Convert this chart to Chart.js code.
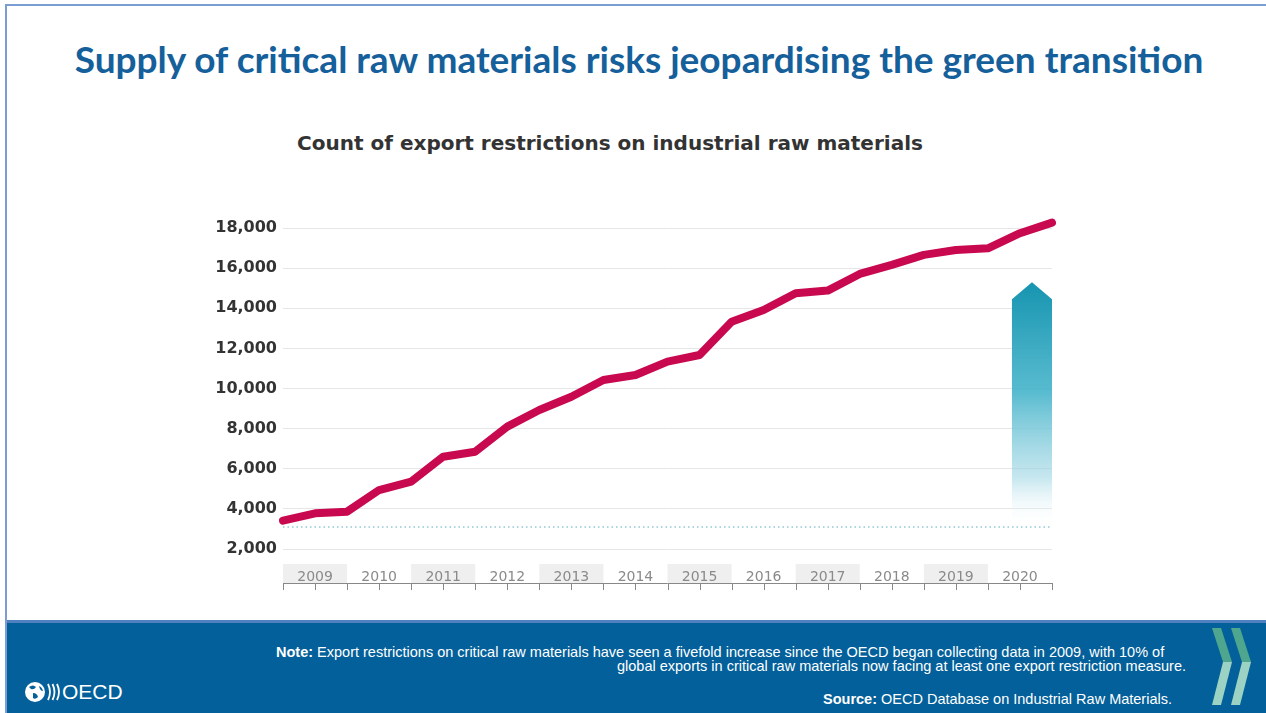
<!DOCTYPE html>
<html>
<head>
<meta charset="utf-8">
<script src="https://cdn.jsdelivr.net/npm/chart.js@4.4.0/dist/chart.umd.min.js"></script>
<style>
    html, body { margin: 0; padding: 0; background: #fff; }
    body { width: 1266px; height: 713px; position: relative; overflow: hidden; font-family: "Liberation Sans", Arial, sans-serif; }
    .frame { position: absolute; left: 5px; top: 4px; right: -4px; bottom: 0; border-left: 2px solid #7b9dd3; border-top: 2px solid #7b9dd3; }
    .slide-title { position: absolute; left: 0; width: 1278px; top: 37px; text-align: center; font-family: Lato, sans-serif; font-weight: 700; font-size: 37px; line-height: 44px; color: #15609b; }
    .chart-title { position: absolute; left: 0; width: 1220px; top: 131px; text-align: center; font-family: "DejaVu Sans", sans-serif; font-weight: 700; font-size: 20px; line-height: 24px; color: #333; }
    #chartBox { position: absolute; left: 200px; top: 200px; width: 880px; height: 410px; }
    .footer { position: absolute; left: 7px; top: 620px; right: 0; bottom: 0; background: #03609a; border-top: 3px solid #4f80c0; }
    .note { position: absolute; color: #fff; font-size: 14.5px; line-height: 16px; white-space: nowrap; }
    .logo { position: absolute; top: 680px; color: #fff; font-size: 21px; line-height: 24px; }
</style>
</head>
<body>
<div class="frame"></div>
<div class="slide-title">Supply of critical raw materials risks jeopardising the green transition</div>
<div class="chart-title">Count of export restrictions on industrial raw materials</div>
<div id="chartBox"><canvas id="lineChart"></canvas></div>

<div class="footer"></div>
<div class="note" style="left:276px; top:644px;"><b>Note:</b> Export restrictions on critical raw materials have seen a fivefold increase since the OECD began collecting data in 2009, with 10% of</div>
<div class="note" style="right:80px; top:658px;">global exports in critical raw materials now facing at least one export restriction measure.</div>
<div class="note" style="right:94px; top:691px;"><b>Source:</b> OECD Database on Industrial Raw Materials.</div>

<!-- logo OECD -->
<svg style="position:absolute; left:24px; top:680px;" width="38" height="24">
    <circle cx="11" cy="12" r="10" fill="#fff"/>
    <path d="M5 7 q4 -3 7 0 q-2 3 -5 2 z M9 13 q4 0 5 4 q-3 3 -5 1 z M15 6 q3 1 4 5 q-3 0 -4 -5 z" fill="#03609a"/>
    <path d="M24 4 q4 8 0 16 M28.5 4 q4 8 0 16 M33 4 q4 8 0 16" stroke="#fff" stroke-width="1.8" fill="none"/>
</svg>
<div class="logo" style="left:62px;">OECD</div>

<!-- chevrons -->
<svg style="position:absolute; left:1200px; top:620px;" width="66" height="93">
    <polygon points="12,8 21,8 32,42 23,42" fill="#4fa68f"/>
    <polygon points="23,42 32,42 21,85 12,85" fill="#9bd2c4"/>
    <polygon points="31,8 40,8 51,42 42,42" fill="#4fa68f"/>
    <polygon points="42,42 51,42 40,85 31,85" fill="#9bd2c4"/>
</svg>

<script>
(function () {
    "use strict";

    // Dữ liệu
    var years = ["2009", "2010", "2011", "2012", "2013", "2014", "2015", "2016", "2017", "2018", "2019", "2020"];
    var restrictions = [
        3410, 3780, 3860, 4940, 5360, 6600, 6850, 8100, 8930, 9590, 10420, 10670, 11340,
        11670, 13330, 13910, 14750, 14880, 15710, 16160, 16660, 16900, 16990, 17740, 18270,
    ];
    var yTicks = [2000, 4000, 6000, 8000, 10000, 12000, 14000, 16000, 18000];
    var baseline = 3100; // dotted reference line
    var arrowRange = [22.75, 24, 3100, 14450, 15300]; // x from, x to, y bottom, y shoulder, y tip

    // half-year positions: year labels sit in the middle of each year
    var tickLabels = [""];
    years.forEach(function (y) {
        tickLabels.push(y, "");
    });

    var decorations = {
        id: "decorations",
        beforeDraw: function (chart) {
            var ctx = chart.ctx, x = chart.scales.x;
            // grey bands behind every other year label
            ctx.save();
            ctx.fillStyle = "#efefef";
            for (var i = 0; i < years.length; i += 2) {
                var x0 = x.getPixelForValue(i * 2), x1 = x.getPixelForValue(i * 2 + 2);
                ctx.fillRect(x0, x.top + 15, x1 - x0, 19);
            }
            ctx.restore();
        },
        beforeDatasetsDraw: function (chart) {
            var ctx = chart.ctx, x = chart.scales.x, y = chart.scales.y;
            ctx.save();
            // dotted line
            ctx.strokeStyle = "#8fcad6";
            ctx.lineWidth = 1.5;
            ctx.setLineDash([1.5, 3]);
            ctx.beginPath();
            ctx.moveTo(chart.chartArea.left, y.getPixelForValue(baseline));
            ctx.lineTo(chart.chartArea.right, y.getPixelForValue(baseline));
            ctx.stroke();
            ctx.setLineDash([]);

            // arrow
            var ax0 = x.getPixelForValue(arrowRange[0]), ax1 = x.getPixelForValue(arrowRange[1]);
            var yb = y.getPixelForValue(arrowRange[2]), ys = y.getPixelForValue(arrowRange[3]), yt = y.getPixelForValue(arrowRange[4]);
            var g = ctx.createLinearGradient(0, yt, 0, yb);
            g.addColorStop(0, "rgba(22,148,176,1)");
            g.addColorStop(0.45, "rgba(70,180,202,0.9)");
            g.addColorStop(0.8, "rgba(160,215,228,0.6)");
            g.addColorStop(1, "rgba(255,255,255,0)");
            ctx.fillStyle = g;
            ctx.beginPath();
            ctx.moveTo(ax0, yb);
            ctx.lineTo(ax0, ys);
            ctx.lineTo((ax0 + ax1) / 2, yt);
            ctx.lineTo(ax1, ys);
            ctx.lineTo(ax1, yb);
            ctx.closePath();
            ctx.fill();
            ctx.restore();
        },
        afterDraw: function (chart) {
            var ctx = chart.ctx, x = chart.scales.x;
            var yAxis = x.top + 34;
            ctx.save();
            ctx.strokeStyle = "#888";
            ctx.lineWidth = 1;
            ctx.beginPath();
            ctx.moveTo(x.getPixelForValue(0), yAxis + 0.5);
            ctx.lineTo(x.getPixelForValue(tickLabels.length - 1), yAxis + 0.5);
            for (var i = 0; i < tickLabels.length; i++) {
                var px = Math.round(x.getPixelForValue(i)) + 0.5;
                ctx.moveTo(px, yAxis);
                ctx.lineTo(px, yAxis + 7);
            }
            ctx.stroke();
            ctx.restore();
        },
    };

    var ctx = document.getElementById("lineChart").getContext("2d");
    new Chart(ctx, {
        type: "line",
        data: {
            labels: tickLabels,
            datasets: [
                {
                    data: restrictions,
                    borderColor: "#c8094f",
                    borderWidth: 8,
                    borderCapStyle: "round",
                    borderJoinStyle: "round",
                    pointRadius: 0,
                    tension: 0,
                    clip: false,
                },
            ],
        },
        options: {
            responsive: true,
            maintainAspectRatio: false,
            animation: false,
            layout: { padding: { top: 28, right: 28, bottom: 25, left: 0 } },
            plugins: { legend: { display: false }, tooltip: { enabled: false } },
            scales: {
                x: {
                    offset: false,
                    grid: { display: false },
                    border: { display: false },
                    ticks: {
                        autoSkip: false,
                        maxRotation: 0,
                        padding: 12,
                        color: "#8a8a8a",
                        font: { family: "DejaVu Sans", size: 14 },
                    },
                    afterFit: function (scale) { scale.height = 36; },
                },
                y: {
                    min: 2000,
                    max: 18000,
                    grid: { color: "#e6e6e6", drawTicks: false },
                    border: { display: false },
                    ticks: {
                        padding: 6,
                        color: "#333",
                        font: { family: "DejaVu Sans", size: 16, weight: "bold" },
                        callback: function (v) { return v.toLocaleString("en-US"); },
                    },
                    afterBuildTicks: function (scale) {
                        scale.ticks = yTicks.map(function (v) { return { value: v }; });
                    },
                    afterFit: function (scale) { scale.width = 83; },
                },
            },
        },
        plugins: [decorations],
    });
})();
</script>
</body>
</html>
